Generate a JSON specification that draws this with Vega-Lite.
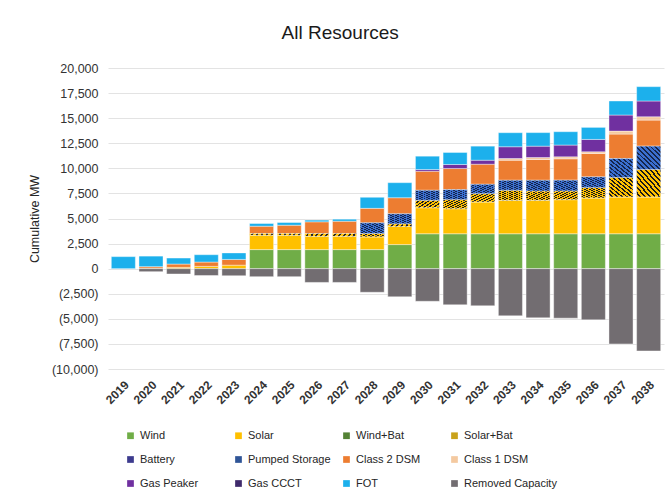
{
  "$schema": "https://vega.github.io/schema/vega-lite/v6.json",
  "width": 556,
  "height": 301,
  "autosize": "none",
  "padding": {"left": 108, "top": 68, "right": 7, "bottom": 131},
  "background": "white",
  "config": {
    "font": "Liberation Sans",
    "view": {"stroke": null}
  },
  "title": {
    "text": "All Resources",
    "fontSize": 19,
    "fontWeight": "normal",
    "color": "#1a1a1a",
    "anchor": "middle",
    "frame": "bounds",
    "offset": 19,
    "dx": -6
  },
  "datasets": {
    "mw": [
      {"year": "2019", "series": "FOT", "value": 1200},
      {"year": "2020", "series": "Solar", "value": 50},
      {"year": "2020", "series": "Class 2 DSM", "value": 150},
      {"year": "2020", "series": "FOT", "value": 1050},
      {"year": "2020", "series": "Removed Capacity", "value": -300},
      {"year": "2021", "series": "Solar", "value": 130},
      {"year": "2021", "series": "Class 2 DSM", "value": 330},
      {"year": "2021", "series": "FOT", "value": 600},
      {"year": "2021", "series": "Removed Capacity", "value": -530},
      {"year": "2022", "series": "Solar", "value": 230},
      {"year": "2022", "series": "Class 2 DSM", "value": 430},
      {"year": "2022", "series": "FOT", "value": 730},
      {"year": "2022", "series": "Removed Capacity", "value": -680},
      {"year": "2023", "series": "Solar", "value": 350},
      {"year": "2023", "series": "Class 2 DSM", "value": 570},
      {"year": "2023", "series": "FOT", "value": 650},
      {"year": "2023", "series": "Removed Capacity", "value": -700},
      {"year": "2024", "series": "Wind", "value": 1900},
      {"year": "2024", "series": "Solar", "value": 1430},
      {"year": "2024", "series": "Solar+Bat", "value": 170},
      {"year": "2024", "series": "Class 2 DSM", "value": 730},
      {"year": "2024", "series": "FOT", "value": 270},
      {"year": "2024", "series": "Removed Capacity", "value": -800},
      {"year": "2025", "series": "Wind", "value": 1900},
      {"year": "2025", "series": "Solar", "value": 1430},
      {"year": "2025", "series": "Solar+Bat", "value": 170},
      {"year": "2025", "series": "Class 2 DSM", "value": 830},
      {"year": "2025", "series": "FOT", "value": 270},
      {"year": "2025", "series": "Removed Capacity", "value": -800},
      {"year": "2026", "series": "Wind", "value": 1900},
      {"year": "2026", "series": "Solar", "value": 1330},
      {"year": "2026", "series": "Solar+Bat", "value": 270},
      {"year": "2026", "series": "Class 2 DSM", "value": 1170},
      {"year": "2026", "series": "FOT", "value": 170},
      {"year": "2026", "series": "Removed Capacity", "value": -1370},
      {"year": "2027", "series": "Wind", "value": 1900},
      {"year": "2027", "series": "Solar", "value": 1330},
      {"year": "2027", "series": "Solar+Bat", "value": 270},
      {"year": "2027", "series": "Class 2 DSM", "value": 1230},
      {"year": "2027", "series": "FOT", "value": 200},
      {"year": "2027", "series": "Removed Capacity", "value": -1370},
      {"year": "2028", "series": "Wind", "value": 1900},
      {"year": "2028", "series": "Solar", "value": 1270},
      {"year": "2028", "series": "Solar+Bat", "value": 330},
      {"year": "2028", "series": "Pumped Storage", "value": 1070},
      {"year": "2028", "series": "Class 2 DSM", "value": 1440},
      {"year": "2028", "series": "FOT", "value": 1100},
      {"year": "2028", "series": "Removed Capacity", "value": -2350},
      {"year": "2029", "series": "Wind", "value": 2400},
      {"year": "2029", "series": "Solar", "value": 1800},
      {"year": "2029", "series": "Solar+Bat", "value": 270},
      {"year": "2029", "series": "Pumped Storage", "value": 1000},
      {"year": "2029", "series": "Class 2 DSM", "value": 1600},
      {"year": "2029", "series": "FOT", "value": 1500},
      {"year": "2029", "series": "Removed Capacity", "value": -2800},
      {"year": "2030", "series": "Wind", "value": 3480},
      {"year": "2030", "series": "Solar", "value": 2600},
      {"year": "2030", "series": "Solar+Bat", "value": 730},
      {"year": "2030", "series": "Pumped Storage", "value": 1000},
      {"year": "2030", "series": "Class 2 DSM", "value": 1900},
      {"year": "2030", "series": "Gas Peaker", "value": 170},
      {"year": "2030", "series": "FOT", "value": 1330},
      {"year": "2030", "series": "Removed Capacity", "value": -3250},
      {"year": "2031", "series": "Wind", "value": 3480},
      {"year": "2031", "series": "Solar", "value": 2500},
      {"year": "2031", "series": "Solar+Bat", "value": 900},
      {"year": "2031", "series": "Pumped Storage", "value": 1000},
      {"year": "2031", "series": "Class 2 DSM", "value": 2100},
      {"year": "2031", "series": "Gas Peaker", "value": 400},
      {"year": "2031", "series": "FOT", "value": 1200},
      {"year": "2031", "series": "Removed Capacity", "value": -3600},
      {"year": "2032", "series": "Wind", "value": 3480},
      {"year": "2032", "series": "Solar", "value": 3170},
      {"year": "2032", "series": "Solar+Bat", "value": 830},
      {"year": "2032", "series": "Pumped Storage", "value": 930},
      {"year": "2032", "series": "Class 2 DSM", "value": 2000},
      {"year": "2032", "series": "Gas Peaker", "value": 400},
      {"year": "2032", "series": "FOT", "value": 1400},
      {"year": "2032", "series": "Removed Capacity", "value": -3700},
      {"year": "2033", "series": "Wind", "value": 3480},
      {"year": "2033", "series": "Solar", "value": 3330},
      {"year": "2033", "series": "Solar+Bat", "value": 1000},
      {"year": "2033", "series": "Pumped Storage", "value": 1000},
      {"year": "2033", "series": "Class 2 DSM", "value": 2000},
      {"year": "2033", "series": "Class 1 DSM", "value": 170},
      {"year": "2033", "series": "Gas Peaker", "value": 1170},
      {"year": "2033", "series": "FOT", "value": 1400},
      {"year": "2033", "series": "Removed Capacity", "value": -4700},
      {"year": "2034", "series": "Wind", "value": 3480},
      {"year": "2034", "series": "Solar", "value": 3330},
      {"year": "2034", "series": "Solar+Bat", "value": 930},
      {"year": "2034", "series": "Pumped Storage", "value": 1070},
      {"year": "2034", "series": "Class 2 DSM", "value": 2070},
      {"year": "2034", "series": "Class 1 DSM", "value": 200},
      {"year": "2034", "series": "Gas Peaker", "value": 1130},
      {"year": "2034", "series": "FOT", "value": 1350},
      {"year": "2034", "series": "Removed Capacity", "value": -4900},
      {"year": "2035", "series": "Wind", "value": 3480},
      {"year": "2035", "series": "Solar", "value": 3400},
      {"year": "2035", "series": "Solar+Bat", "value": 870},
      {"year": "2035", "series": "Pumped Storage", "value": 1070},
      {"year": "2035", "series": "Class 2 DSM", "value": 2130},
      {"year": "2035", "series": "Class 1 DSM", "value": 200},
      {"year": "2035", "series": "Gas Peaker", "value": 1170},
      {"year": "2035", "series": "FOT", "value": 1330},
      {"year": "2035", "series": "Removed Capacity", "value": -4930},
      {"year": "2036", "series": "Wind", "value": 3480},
      {"year": "2036", "series": "Solar", "value": 3570},
      {"year": "2036", "series": "Solar+Bat", "value": 1030},
      {"year": "2036", "series": "Pumped Storage", "value": 1070},
      {"year": "2036", "series": "Class 2 DSM", "value": 2330},
      {"year": "2036", "series": "Class 1 DSM", "value": 170},
      {"year": "2036", "series": "Gas Peaker", "value": 1230},
      {"year": "2036", "series": "FOT", "value": 1200},
      {"year": "2036", "series": "Removed Capacity", "value": -5100},
      {"year": "2037", "series": "Wind", "value": 3480},
      {"year": "2037", "series": "Solar", "value": 3670},
      {"year": "2037", "series": "Solar+Bat", "value": 1930},
      {"year": "2037", "series": "Pumped Storage", "value": 1900},
      {"year": "2037", "series": "Class 2 DSM", "value": 2430},
      {"year": "2037", "series": "Class 1 DSM", "value": 300},
      {"year": "2037", "series": "Gas Peaker", "value": 1600},
      {"year": "2037", "series": "FOT", "value": 1400},
      {"year": "2037", "series": "Removed Capacity", "value": -7500},
      {"year": "2038", "series": "Wind", "value": 3480},
      {"year": "2038", "series": "Solar", "value": 3670},
      {"year": "2038", "series": "Solar+Bat", "value": 2730},
      {"year": "2038", "series": "Pumped Storage", "value": 2330},
      {"year": "2038", "series": "Class 2 DSM", "value": 2600},
      {"year": "2038", "series": "Class 1 DSM", "value": 330},
      {"year": "2038", "series": "Gas Peaker", "value": 1570},
      {"year": "2038", "series": "FOT", "value": 1430},
      {"year": "2038", "series": "Removed Capacity", "value": -8200}
    ]
  },
  "data": {"name": "mw"},
  "transform": [
    {"calculate": "indexof(['Wind','Solar','Wind+Bat','Solar+Bat','Battery','Pumped Storage','Class 2 DSM','Class 1 DSM','Gas Peaker','Gas CCCT','FOT','Removed Capacity'], datum.series)", "as": "ord"},
    {"stack": "value", "groupby": ["year"], "sort": [{"field": "ord", "order": "ascending"}], "as": ["v0", "v1"]}
  ],
  "encoding": {
    "x": {
      "field": "year",
      "type": "ordinal",
      "scale": {"paddingInner": 0.13, "paddingOuter": 0.12},
      "axis": {
        "title": null,
        "labelAngle": -45,
        "labelFontSize": 12,
        "labelFontWeight": "bold",
        "labelColor": "#333333",
        "labelPadding": 10,
        "ticks": false,
        "domain": false,
        "grid": false
      }
    },
    "y": {
      "field": "v1",
      "type": "quantitative",
      "scale": {"domain": [-10000, 20000], "nice": false, "zero": false},
      "axis": {
        "title": "Cumulative MW",
        "titleFontSize": 12.5,
        "titleFontWeight": "normal",
        "titleColor": "#262626",
        "titlePadding": 10,
        "values": [-10000, -7500, -5000, -2500, 0, 2500, 5000, 7500, 10000, 12500, 15000, 17500, 20000],
        "labelExpr": "datum.value < 0 ? '(' + format(-datum.value, ',') + ')' : format(datum.value, ',')",
        "labelFontSize": 12.5,
        "labelColor": "#333333",
        "labelPadding": 10,
        "ticks": false,
        "domain": false,
        "gridColor": "#e3e3e3",
        "gridWidth": 1
      }
    },
    "y2": {"field": "v0"}
  },
  "layer": [
    {
      "mark": {"type": "bar", "stroke": "white", "strokeWidth": 0.4},
      "encoding": {
        "color": {
          "field": "series",
          "type": "nominal",
          "scale": {
            "domain": ["Wind", "Solar", "Wind+Bat", "Solar+Bat", "Battery", "Pumped Storage", "Class 2 DSM", "Class 1 DSM", "Gas Peaker", "Gas CCCT", "FOT", "Removed Capacity"],
            "range": ["#70ad47", "#ffc000", "#548235", "#c9a21a", "#3d3b8e", "#2f5597", "#ed7d31", "#f4c9a0", "#7030a0", "#3f2a6b", "#1cb0ec", "#726d71"]
          },
          "legend": {
            "title": null,
            "orient": "none",
            "legendX": 17,
            "legendY": 362,
            "direction": "horizontal",
            "columns": 4,
            "gridAlign": "all",
            "columnPadding": 0,
            "rowPadding": 12,
            "symbolType": "square",
            "symbolSize": 45,
            "symbolStrokeWidth": 0,
            "labelFontSize": 11,
            "labelColor": "#262626",
            "labelLimit": 200,
            "labelOffset": 4
          }
        }
      }
    },
    {
      "transform": [{"filter": "datum.series === 'Solar+Bat'"}],
      "mark": {
        "type": "bar",
        "fill": {
          "gradient": "linear",
          "x1": 0, "y1": 1, "x2": 1, "y2": 0,
          "stops": [
            {"offset": 0, "color": "#ffc000"}, {"offset": 0.06, "color": "#ffc000"}, {"offset": 0.06, "color": "#1a1a1a"}, {"offset": 0.1, "color": "#1a1a1a"},
            {"offset": 0.1, "color": "#ffc000"}, {"offset": 0.16, "color": "#ffc000"}, {"offset": 0.16, "color": "#1a1a1a"}, {"offset": 0.2, "color": "#1a1a1a"},
            {"offset": 0.2, "color": "#ffc000"}, {"offset": 0.26, "color": "#ffc000"}, {"offset": 0.26, "color": "#1a1a1a"}, {"offset": 0.3, "color": "#1a1a1a"},
            {"offset": 0.3, "color": "#ffc000"}, {"offset": 0.36, "color": "#ffc000"}, {"offset": 0.36, "color": "#1a1a1a"}, {"offset": 0.4, "color": "#1a1a1a"},
            {"offset": 0.4, "color": "#ffc000"}, {"offset": 0.46, "color": "#ffc000"}, {"offset": 0.46, "color": "#1a1a1a"}, {"offset": 0.5, "color": "#1a1a1a"},
            {"offset": 0.5, "color": "#ffc000"}, {"offset": 0.56, "color": "#ffc000"}, {"offset": 0.56, "color": "#1a1a1a"}, {"offset": 0.6, "color": "#1a1a1a"},
            {"offset": 0.6, "color": "#ffc000"}, {"offset": 0.66, "color": "#ffc000"}, {"offset": 0.66, "color": "#1a1a1a"}, {"offset": 0.7, "color": "#1a1a1a"},
            {"offset": 0.7, "color": "#ffc000"}, {"offset": 0.76, "color": "#ffc000"}, {"offset": 0.76, "color": "#1a1a1a"}, {"offset": 0.8, "color": "#1a1a1a"},
            {"offset": 0.8, "color": "#ffc000"}, {"offset": 0.86, "color": "#ffc000"}, {"offset": 0.86, "color": "#1a1a1a"}, {"offset": 0.9, "color": "#1a1a1a"},
            {"offset": 0.9, "color": "#ffc000"}, {"offset": 0.96, "color": "#ffc000"}, {"offset": 0.96, "color": "#1a1a1a"}, {"offset": 1, "color": "#1a1a1a"}
          ]
        },
        "stroke": "white",
        "strokeWidth": 0.4
      }
    },
    {
      "transform": [{"filter": "datum.series === 'Pumped Storage'"}],
      "mark": {
        "type": "bar",
        "fill": {
          "gradient": "linear",
          "x1": 0, "y1": 1, "x2": 1, "y2": 0,
          "stops": [
            {"offset": 0, "color": "#3b6fd0"}, {"offset": 0.06, "color": "#3b6fd0"}, {"offset": 0.06, "color": "#15254a"}, {"offset": 0.1, "color": "#15254a"},
            {"offset": 0.1, "color": "#3b6fd0"}, {"offset": 0.16, "color": "#3b6fd0"}, {"offset": 0.16, "color": "#15254a"}, {"offset": 0.2, "color": "#15254a"},
            {"offset": 0.2, "color": "#3b6fd0"}, {"offset": 0.26, "color": "#3b6fd0"}, {"offset": 0.26, "color": "#15254a"}, {"offset": 0.3, "color": "#15254a"},
            {"offset": 0.3, "color": "#3b6fd0"}, {"offset": 0.36, "color": "#3b6fd0"}, {"offset": 0.36, "color": "#15254a"}, {"offset": 0.4, "color": "#15254a"},
            {"offset": 0.4, "color": "#3b6fd0"}, {"offset": 0.46, "color": "#3b6fd0"}, {"offset": 0.46, "color": "#15254a"}, {"offset": 0.5, "color": "#15254a"},
            {"offset": 0.5, "color": "#3b6fd0"}, {"offset": 0.56, "color": "#3b6fd0"}, {"offset": 0.56, "color": "#15254a"}, {"offset": 0.6, "color": "#15254a"},
            {"offset": 0.6, "color": "#3b6fd0"}, {"offset": 0.66, "color": "#3b6fd0"}, {"offset": 0.66, "color": "#15254a"}, {"offset": 0.7, "color": "#15254a"},
            {"offset": 0.7, "color": "#3b6fd0"}, {"offset": 0.76, "color": "#3b6fd0"}, {"offset": 0.76, "color": "#15254a"}, {"offset": 0.8, "color": "#15254a"},
            {"offset": 0.8, "color": "#3b6fd0"}, {"offset": 0.86, "color": "#3b6fd0"}, {"offset": 0.86, "color": "#15254a"}, {"offset": 0.9, "color": "#15254a"},
            {"offset": 0.9, "color": "#3b6fd0"}, {"offset": 0.96, "color": "#3b6fd0"}, {"offset": 0.96, "color": "#15254a"}, {"offset": 1, "color": "#15254a"}
          ]
        },
        "stroke": "white",
        "strokeWidth": 0.4
      }
    }
  ]
}
